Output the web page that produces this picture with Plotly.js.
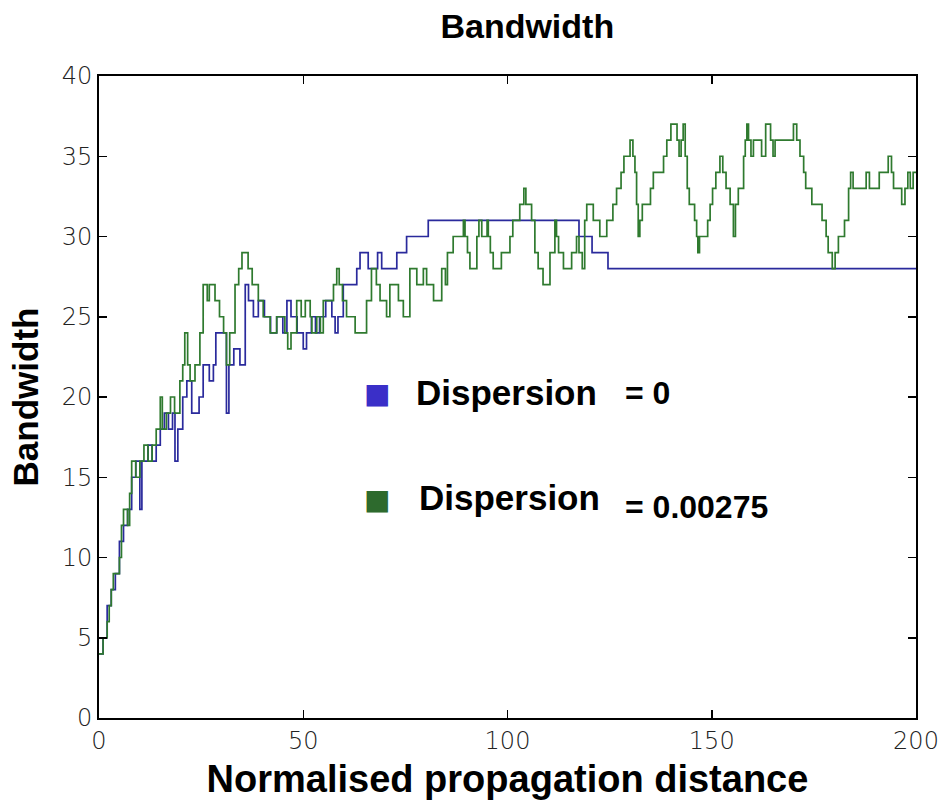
<!DOCTYPE html>
<html>
<head>
<meta charset="utf-8">
<script src="https://cdn.plot.ly/plotly-3.0.1.min.js"></script>
<style>
html,body{margin:0;padding:0;background:#fff;}
#chart{width:945px;height:802px;}
</style>
</head>
<body>
<div id="chart"></div>
<script>
// Dispersion = 0 (blue)
const blueX = [0,1,2,3,4,5,6,7,8,9,10,10.5,12,13,14,15,16,17,18,18.6,19.3,20.5,21.5,22.7,24.5,25.5,27,28,28.6,30.8,31.2,31.8,33,34.5,35.8,36.6,37.8,39,40.5,42,43.5,45,46,47,48.5,50,50.8,52,53,54,55.5,57,57.8,58.5,59.8,63.1,63.9,65.9,68.2,69.2,72.9,75.3,80.6,117.5,120.7,124.6,200];
const blueY = [4,5,7,8,9,11,12,13,15,16,13,16,17,16,17,18,19,18,19,16,18,20,21,19,20,22,21,22,24,24,19,22,23,22,27,26,25,26,25,24,25,24,26,25,24,23,24,25,24,25,26,25,24,25,27,28,29,28,29,28,29,30,31,30,29,28,28];

// Dispersion = 0.00275 (green)
const greenX = [0,1,2,2.5,3,3.5,5,5.5,6,7,7.5,8,9,10,11,12,13,14,15,15.5,16.5,17.5,18.5,19.8,20.5,21,21.7,22.3,23.5,24.7,25.5,26.5,27,28.4,29.5,30.5,31.2,32,33.3,34.2,35,36.5,37.5,39,40.2,41.9,43.5,45.5,46.2,47,48.4,49.5,50.5,51.7,52.1,53.3,54.2,54.9,57.4,58.2,58.8,59.6,60.6,62.7,65.5,66.7,67.9,68.8,70.4,71.2,73.3,74.5,76.1,77.8,79.4,80.2,81.9,83.9,84.8,85.3,86.7,88.4,89.2,89.6,90.2,90.8,92.5,93,93.7,95,95.3,95.8,96.5,98.5,100.6,101.3,103,104,104.5,105.9,106.7,107.5,108.7,110.4,111.6,112,112.5,113.7,115.7,116.9,117.5,118.3,118.9,119.4,121,122.6,124.3,125.8,126.7,127.8,128.5,130,130.7,131.2,131.6,132,132.4,133,135,135.7,138.2,139,140,141.5,142,142.5,143,143.5,144,144.5,145.8,146.3,146.6,147,149,149.6,150.2,151,152,152.7,153.5,154.5,155.3,155.8,156.5,157.8,158.2,158.6,159,159.6,160.2,162.2,163.2,164.4,165,165.5,170,170.8,171.6,172.5,173,174.5,177,178,178.5,179.5,180.2,181,182.5,183.5,184,184.6,187.8,188.6,191,193.2,194,194.5,196.5,197.3,198,198.6,199.3,200];
const greenY = [4,5,6,7,8,9,10,12,13,12,14,16,15,16,17,16,17,18,20,18,19,20,19,21,22,24,22,21,22,24,27,26,27,26,25,24,22,24,27,28,29,28,27,26,25,24,25,24,23,24,26,25,26,25,24,25,24,26,27,28,27,26,25,24,26,28,27,26,25,27,26,25,28,27,28,27,26,28,27,29,30,30,31,30,29,28,30,31,30,31,30,29,28,29,30,31,32,33,32,31,29,28,27,29,31,30,29,28,29,30,29,28,31,32,31,30,31,32,33,34,35,36,35,34,32,30,31,32,33,34,35,36,37,36,35,36,37,35,33,32,31,30,29,30,31,32,33,34,35,34,33,32,30,32,33,35,36,37,36,35,36,35,37,36,35,36,37,36,35,34,33,32,31,30,29,28,29,30,31,33,34,33,34,33,34,35,34,33,32,33,34,33,34,34];

const xTicks = [0,50,100,150,200];
const yTicks = [0,5,10,15,20,25,30,35,40];

const legendLabels = ["Dispersion", "Dispersion"];
const legendValues = ["= 0", "= 0.00275"];

const blueLine = '#2a2a9c';
const greenLine = '#2f7a2f';
const blueKey = '#3a2fc8';
const greenKey = '#2d6a2d';

const traces = [
  {x: blueX, y: blueY, type: 'scatter', mode: 'lines', line: {shape: 'hv', color: blueLine, width: 1.7}, name: legendLabels[0] + ' ' + legendValues[0]},
  {x: greenX, y: greenY, type: 'scatter', mode: 'lines', line: {shape: 'hv', color: greenLine, width: 1.7}, name: legendLabels[1] + ' ' + legendValues[1]}
];

const boldFont = {family: 'Liberation Sans, Arial, sans-serif', weight: 700, color: '#000'};
const tickFont = {family: 'DejaVu Sans, sans-serif', size: 24, color: '#222', weight: 300};

const annotations = [
  {xref: 'paper', yref: 'paper', x: 0.340, y: 0.506, text: '■', showarrow: false, font: {size: 28, color: blueKey, family: 'DejaVu Sans'}, xanchor: 'center', yanchor: 'middle'},
  {xref: 'paper', yref: 'paper', x: 0.386, y: 0.507, text: legendLabels[0], showarrow: false, font: Object.assign({size: 35}, boldFont), xanchor: 'left', yanchor: 'middle'},
  {xref: 'paper', yref: 'paper', x: 0.641, y: 0.507, text: legendValues[0], showarrow: false, font: Object.assign({size: 32}, boldFont), xanchor: 'left', yanchor: 'middle'},
  {xref: 'paper', yref: 'paper', x: 0.340, y: 0.341, text: '■', showarrow: false, font: {size: 28, color: greenKey, family: 'DejaVu Sans'}, xanchor: 'center', yanchor: 'middle'},
  {xref: 'paper', yref: 'paper', x: 0.389, y: 0.343, text: legendLabels[1], showarrow: false, font: Object.assign({size: 35}, boldFont), xanchor: 'left', yanchor: 'middle'},
  {xref: 'paper', yref: 'paper', x: 0.641, y: 0.329, text: legendValues[1], showarrow: false, font: Object.assign({size: 32}, boldFont), xanchor: 'left', yanchor: 'middle'}
];

const layout = {
  width: 945, height: 802,
  margin: {l: 99, r: 29, t: 76, b: 84},
  paper_bgcolor: '#fff', plot_bgcolor: '#fff',
  showlegend: false,
  title: {text: 'Bandwidth', font: Object.assign({size: 34}, boldFont), x: 0.558, xanchor: 'center', y: 0.968, yanchor: 'middle'},
  xaxis: {
    range: [0, 200], tickvals: xTicks, ticktext: xTicks.map(String),
    showgrid: false, zeroline: false, showline: true, linecolor: '#000', linewidth: 2, mirror: 'ticks',
    ticks: 'inside', ticklen: 8, tickwidth: 1.5, tickcolor: '#000', tickfont: tickFont,
    title: {text: 'Normalised propagation distance', font: Object.assign({size: 38}, boldFont), standoff: 12}
  },
  yaxis: {
    range: [0, 40], tickvals: yTicks, ticktext: yTicks.map(String),
    showgrid: false, zeroline: false, showline: true, linecolor: '#000', linewidth: 2, mirror: 'ticks',
    ticks: 'inside', ticklen: 8, tickwidth: 1.5, tickcolor: '#000', tickfont: tickFont,
    title: {text: 'Bandwidth', font: Object.assign({size: 35}, boldFont), standoff: 12}
  },
  annotations: annotations
};

Plotly.newPlot('chart', traces, layout, {displayModeBar: false, staticPlot: true});
</script>
</body>
</html>
